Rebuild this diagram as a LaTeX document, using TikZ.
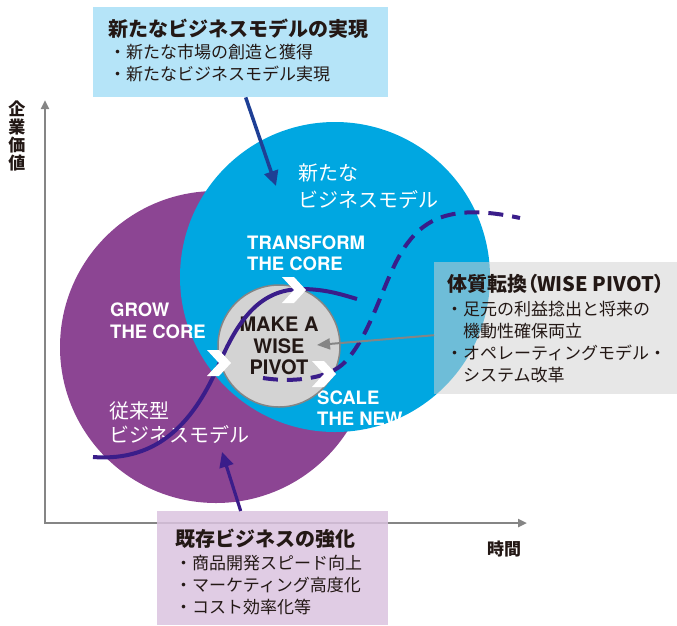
\documentclass[tikz,border=0pt]{standalone}
\usepackage{fontspec}
\setmainfont{Noto Sans CJK JP}
\newfontfamily\latinfont{TeX Gyre Heros}
\usetikzlibrary{arrows.meta}

\definecolor{newblue}{HTML}{00A7E1}
\definecolor{oldpurple}{HTML}{8C4593}
\definecolor{curveink}{HTML}{3A1D8A}
\definecolor{navyink}{HTML}{1E3F95}
\definecolor{newboxfill}{HTML}{B5E4F8}
\definecolor{oldboxfill}{HTML}{DAC3DF}
\definecolor{axisgray}{HTML}{858585}
\definecolor{pivotgray}{HTML}{D3D3D3}
\definecolor{textdark}{HTML}{231815}

\tikzset{
  axisline/.style={axisgray, line width=2.5pt},
  boxtitle/.style={anchor=base west, inner sep=0pt, text=textdark, font=\fontsize{20}{24}\selectfont\bfseries},
  boxitem/.style={anchor=base west, inner sep=0pt, text=textdark, font=\fontsize{17}{22}\selectfont},
  whitejp/.style={anchor=base west, inner sep=0pt, text=white, font=\fontsize{20}{24}\selectfont},
  whitelatin/.style={anchor=base west, inner sep=0pt, text=white, font=\latinfont\bfseries\fontsize{18.5}{22}\selectfont},
  curve/.style={curveink, line width=4pt},
}

\newcommand{\pivotchevron}[1]{\fill[white] (#1) ++(-14,-13) -- ++(12,0) -- ++(12,13) -- ++(-12,13) -- ++(-12,0) -- ++(12,-13) -- cycle;}

\begin{document}
\begin{tikzpicture}[x=1pt,y=-1pt]
	\useasboundingbox (0,0) rectangle (677,625);

	% axes
	\coordinate (origin) at (45,523);
	\coordinate (valuetip) at (45,100);
	\coordinate (timetip) at (527,523);
	\draw[axisline, {Triangle[length=9pt,width=8pt]}-{Triangle[length=9pt,width=8pt]}] (valuetip) -- (origin) -- (timetip);
	\node[text=textdark, inner sep=0pt, align=center, font=\fontsize{17}{18}\selectfont\bfseries] (valuelabel) at (17,136) {企\\業\\価\\値};
	\node[boxitem, font=\fontsize{17}{22}\selectfont\bfseries] (timelabel) at (487,555) {時間};

	% the two business models
	\node[circle, fill=oldpurple, minimum size=312pt, inner sep=0pt] (oldcircle) at (216,347) {};
	\node[circle, fill=newblue, minimum size=310pt, inner sep=0pt] (newcircle) at (335,277) {};
	\node[whitejp] (newnameA) at (298,180) {新たな};
	\node[whitejp] (newnameB) at (298,207) {ビジネスモデル};
	\node[whitejp] (oldnameA) at (109,418) {従来型};
	\node[whitejp] (oldnameB) at (109,442) {ビジネスモデル};
	\node[whitelatin] (growA) at (110,316) {GROW};
	\node[whitelatin] (growB) at (110,338) {THE CORE};
	\node[whitelatin] (transformA) at (247,249) {TRANSFORM};
	\node[whitelatin] (transformB) at (247,270) {THE CORE};
	\node[whitelatin] (scaleA) at (317,404) {SCALE};
	\node[whitelatin] (scaleB) at (317,425) {THE NEW};

	% pivot disc
	\node[circle, fill=pivotgray, draw=axisgray, line width=1.5pt, minimum size=122pt, inner sep=0pt,
		align=center, text=textdark, font=\latinfont\bfseries\fontsize{20}{21.5}\selectfont] (pivot) at (279,346) {MAKE A\\WISE\\PIVOT};

	% growth curves
	\draw[curve] (93,457) .. controls (160,462) and (195,420) .. (220,362)
		.. controls (240,316) and (262,290) .. (300,289)
		.. controls (325,289) and (340,294) .. (357,299);
	\draw[curve, dash pattern=on 15pt off 9pt] (263,378) .. controls (295,383) and (330,378) .. (345,362)
		.. controls (375,330) and (385,270) .. (410,240)
		.. controls (430,215) and (460,205) .. (520,218);
	\pivotchevron{221,363}
	\pivotchevron{296,290}
	\pivotchevron{326,374}

	% new business box
	\node[fill=newboxfill, minimum width=295pt, minimum height=90pt, anchor=north west, inner sep=0pt] (newbox) at (93,7) {};
	\node[boxtitle] (newtitle) at (108,36) {新たなビジネスモデルの実現};
	\node[boxitem] (newitemA) at (109,58) {・新たな市場の創造と獲得};
	\node[boxitem] (newitemB) at (109,80) {・新たなビジネスモデル実現};
	\coordinate (newtip) at (276,186);
	\draw[navyink, line width=3.5pt, -{Triangle[length=15pt,width=14pt]}] ([xshift=5pt]newbox.south) -- (newtip);

	% wise pivot box
	\node[fill=black!18, fill opacity=0.53, minimum width=243pt, minimum height=132pt, anchor=north west, inner sep=0pt] (pivotbox) at (434,262) {};
	\node[boxtitle, font=\fontsize{20}{24}\selectfont\bfseries\addfontfeatures{RawFeature=+palt}] (pivottitle) at (447,291) {体質転換（WISE PIVOT）};
	\node[boxitem] (pivotitemA) at (446,315) {・足元の利益捻出と将来の};
	\node[boxitem] (pivotitemB) at (446,337) {\hphantom{・}機動性確保両立};
	\node[boxitem] (pivotitemC) at (446,359) {・オペレーティングモデル・};
	\node[boxitem] (pivotitemD) at (446,381) {\hphantom{・}システム改革};
	\coordinate (pivottip) at (317,345);
	\draw[axisgray, line width=2pt, -{Triangle[length=13pt,width=11pt]}] ([yshift=-7pt]pivotbox.west) -- (pivottip);

	% existing business box
	\node[fill=oldboxfill, fill opacity=0.85, minimum width=231pt, minimum height=114pt, anchor=north west, inner sep=0pt] (oldbox) at (157,511) {};
	\node[boxtitle] (oldtitle) at (175,546) {既存ビジネスの強化};
	\node[boxitem] (olditemA) at (175,569) {・商品開発スピード向上};
	\node[boxitem] (olditemB) at (175,591) {・マーケティング高度化};
	\node[boxitem] (olditemC) at (175,613) {・コスト効率化等};
	\coordinate (oldtip) at (222,452);
	\draw[curveink, line width=3.2pt, -{Triangle[length=15pt,width=14pt]}] ([xshift=-32pt]oldbox.north) -- (oldtip);
\end{tikzpicture}
\end{document}
